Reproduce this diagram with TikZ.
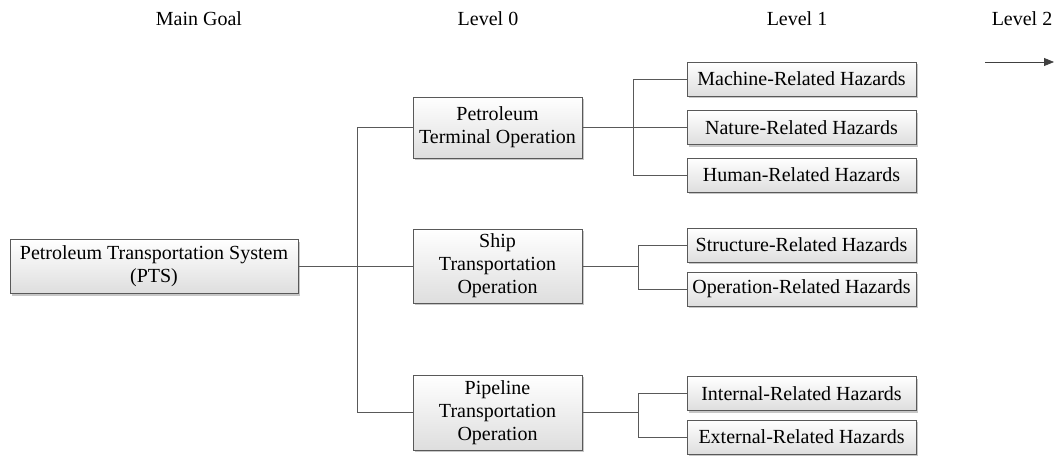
\documentclass[tikz,border=0pt]{standalone}
\usepackage{fontspec}
\setmainfont{Liberation Serif}
\usetikzlibrary{shadows,arrows.meta}
\begin{document}
\begin{tikzpicture}[x=1pt,y=-1pt,
  box/.style={draw=black!65, line width=0.8pt, top color=white, bottom color=black!13,
    drop shadow={shadow xshift=2pt,shadow yshift=-2pt,fill=black,opacity=0.22},
    align=center, inner sep=0pt, font=\fontsize{20}{23}\selectfont},
  hz/.style={box, minimum width=229pt, minimum height=34pt},
  lv/.style={box, minimum width=169pt},
  hdr/.style={font=\fontsize{20}{23}\selectfont, inner sep=0pt, anchor=base},
  conn/.style={draw=black!65, line width=0.8pt}]
\useasboundingbox (0,0) rectangle (1056,455);

% headers
\node[hdr] (h0) at (199,25) {Main Goal};
\node[hdr] (h1) at (488,25) {Level 0};
\node[hdr] (h2) at (797,25) {Level 1};
\node[hdr] (h3) at (1022,25) {Level 2};
\coordinate (a1) at (985,62);
\coordinate (a2) at (1054,62);
\draw[conn, draw=black!75, -{Triangle[length=10pt,width=8pt,fill=black!75]}] (a1) -- (a2);

% main goal
\node[box, minimum width=288pt, minimum height=54pt] (pts) at (154,266.5) {Petroleum Transportation System\\(PTS)};

% level 0
\node[lv, minimum height=61pt] (pto) at (497.5,127.5) {Petroleum\\Terminal Operation};
\node[lv, minimum height=74pt] (sto) at (497.5,266) {Ship\\Transportation\\Operation};
\node[lv, minimum height=75pt] (plo) at (497.5,412.5) {Pipeline\\Transportation\\Operation};

% level 1
\node[hz] (mach) at (801.5,79) {Machine-Related Hazards};
\node[hz] (nat) at (801.5,127.5) {Nature-Related Hazards};
\node[hz] (hum) at (801.5,175) {Human-Related Hazards};
\node[hz] (str) at (801.5,245) {Structure-Related Hazards};
\node[hz] (ope) at (801.5,289) {Operation-Related Hazards};
\node[hz] (int) at (801.5,393.5) {Internal-Related Hazards};
\node[hz] (ext) at (801.5,437) {External-Related Hazards};

% main bus
\coordinate (j0) at (357,266.5);
\draw[conn] (pto.west) -- (pto.west -| j0) -- (plo.west -| j0) -- (plo.west);
\draw[conn] (pts.east) -- ([xshift=14pt]j0);
\draw[conn] (j0 |- sto.west) -- (sto.west);

% terminal bus
\coordinate (j1) at (633,127.5);
\draw[conn] (mach.west) -- (mach.west -| j1) -- (hum.west -| j1) -- (hum.west);
\draw[conn] (pto.east) -- (nat.west);

% ship bus
\coordinate (j2) at (638,266);
\draw[conn] (str.west) -- (str.west -| j2) -- (ope.west -| j2) -- (ope.west);
\draw[conn] (sto.east) -- (j2);

% pipeline bus
\coordinate (j3) at (638,412.5);
\draw[conn] (int.west) -- (int.west -| j3) -- (ext.west -| j3) -- (ext.west);
\draw[conn] (plo.east) -- (j3);
\end{tikzpicture}
\end{document}
